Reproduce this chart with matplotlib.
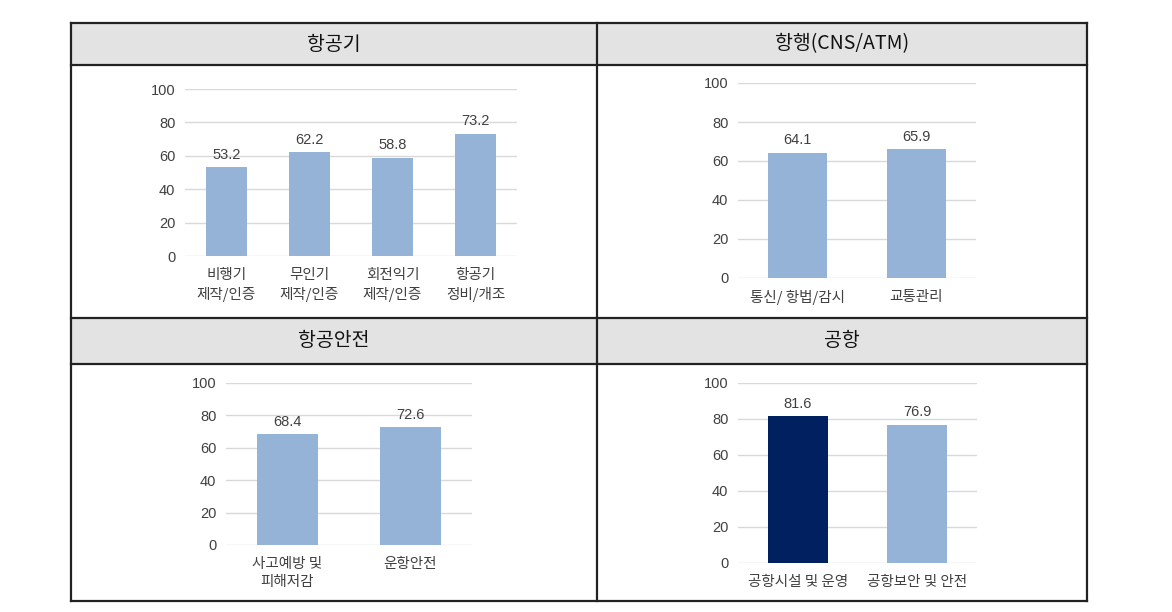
import matplotlib.pyplot as plt
from matplotlib.patches import Rectangle
from matplotlib.lines import Line2D

plt.rcParams['font.family'] = ['Noto Sans CJK KR', 'DejaVu Sans']

# --- data ---
titles = ["항공기", "항행(CNS/ATM)", "항공안전", "공항"]

aircraft_cats = ["비행기\n제작/인증", "무인기\n제작/인증", "회전익기\n제작/인증", "항공기\n정비/개조"]
aircraft_vals = [53.2, 62.2, 58.8, 73.2]

nav_cats = ["통신/ 항법/감시", "교통관리"]
nav_vals = [64.1, 65.9]

safety_cats = ["사고예방 및\n피해저감", "운항안전"]
safety_vals = [68.4, 72.6]

airport_cats = ["공항시설 및 운영", "공항보안 및 안전"]
airport_vals = [81.6, 76.9]
airport_colors = ["#002060", "#95B3D7"]

y_ticks = [0, 20, 40, 60, 80, 100]

W, H = 1172, 612
fig = plt.figure(figsize=(W / 100, H / 100), dpi=100)

NUM_FONT = ["Liberation Sans", "DejaVu Sans"]
TEXT_COLOR = "#404040"


def box(x0, y0, x1, y1):
    # pixel box (top-left origin) -> figure fraction
    return [x0 / W, 1 - y1 / H, (x1 - x0) / W, (y1 - y0) / H]


# --- table frame ---
for (x0, y0, x1, y1) in [(71, 23, 597, 65), (597, 23, 1087, 65),
                         (71, 318, 597, 364), (597, 318, 1087, 364)]:
    fig.add_artist(Rectangle((x0 / W, 1 - y1 / H), (x1 - x0) / W, (y1 - y0) / H,
                             transform=fig.transFigure, facecolor="#e3e3e3",
                             edgecolor="none", zorder=0))

lw = 1.6
for y in [23, 65, 318, 364, 601]:
    fig.add_artist(Line2D([71 / W, 1087 / W], [1 - y / H, 1 - y / H],
                          transform=fig.transFigure, color="#222222", linewidth=lw))
for x in [71, 597, 1087]:
    fig.add_artist(Line2D([x / W, x / W], [1 - 23 / H, 1 - 601 / H],
                          transform=fig.transFigure, color="#222222", linewidth=lw))

# header titles
for (cx, cy), t in zip([(334, 44), (842, 44), (334, 341), (842, 341)], titles):
    fig.text(cx / W, 1 - cy / H, t, ha="center", va="center", fontsize=14,
             fontweight="medium", color="#111111")


def draw_bars(rect, cats, vals, colors):
    ax = fig.add_axes(box(*rect))
    xs = range(len(cats))
    bars = ax.bar(xs, vals, width=0.5, color=colors, zorder=3)
    for b, v in zip(bars, vals):
        ax.annotate(f"{v:.1f}", (b.get_x() + b.get_width() / 2, v),
                    xytext=(0, 4), textcoords="offset points",
                    ha="center", va="bottom", fontsize=10.5,
                    family=NUM_FONT, color=TEXT_COLOR)
    ax.set_xlim(-0.5, len(cats) - 0.5)
    ax.set_ylim(0, 100)
    ax.set_yticks(y_ticks)
    ax.set_yticklabels([str(t) for t in y_ticks], family=NUM_FONT)
    ax.set_xticks(list(xs))
    ax.set_xticklabels(cats, fontsize=10.5, color=TEXT_COLOR, linespacing=1.4)
    ax.tick_params(axis="y", length=0, pad=7, labelsize=10.5, labelcolor=TEXT_COLOR)
    ax.tick_params(axis="x", length=0, pad=8.5)
    ax.grid(axis="y", color="#d9d9d9", linewidth=1, zorder=0)
    for s in ax.spines.values():
        s.set_visible(False)
    ax.set_facecolor("none")
    return ax


draw_bars((185, 89, 517, 256), aircraft_cats, aircraft_vals, "#95B3D7")
draw_bars((738, 83, 976, 278), nav_cats, nav_vals, "#95B3D7")
draw_bars((226, 383, 472, 545), safety_cats, safety_vals, "#95B3D7")
draw_bars((738, 383, 977, 563), airport_cats, airport_vals, airport_colors)

fig.savefig("out.png", dpi=100)
